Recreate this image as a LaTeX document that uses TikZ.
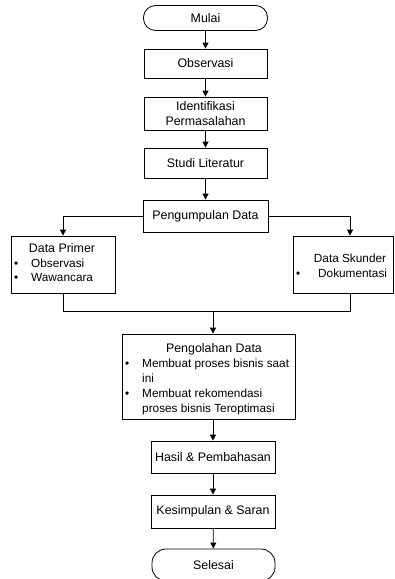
\documentclass[tikz,border=0pt]{standalone}
\usepackage{fontspec}
\setmainfont{Liberation Sans}
\usepackage{tikz}
\usetikzlibrary{arrows.meta}

% bullet in front of a list line
\newcommand{\butir}{\makebox[17pt][l]{\textbullet}}

\begin{document}
\begin{tikzpicture}[x=1pt,y=-1pt,
    font=\fontsize{12.4}{14.8}\selectfont,
    kotak/.style={draw,line width=0.8pt,inner sep=3pt,align=center},
    ujung/.style={draw,line width=0.8pt,rounded corners=12pt,minimum width=124pt,minimum height=25pt},
    teks/.style={anchor=base west,inner sep=0pt,font=\fontsize{11.8}{14.8}\selectfont},
    judul/.style={anchor=base,inner sep=0pt},
    panah/.style={line width=0.8pt,-{Triangle[width=6pt,length=6pt]}}]
    % Fix the page size
    \useasboundingbox (0,0) rectangle (395,579);

    % Main column, top part
    \node[ujung] (mulai) at (205.5,18) {Mulai};
    \node[kotak,minimum width=123pt,minimum height=29pt] (obs) at (205.5,63.5) {Observasi};
    \node[kotak,minimum width=123pt,minimum height=33pt] (idf) at (205.5,113.5) {Identifikasi\\Permasalahan};
    \node[kotak,minimum width=123pt,minimum height=30pt] (studi) at (205.5,163) {Studi Literatur};
    \node[kotak,minimum width=125pt,minimum height=32pt] (kumpul) at (205.5,216) {Pengumpulan Data};

    % The two data sources
    \node[kotak,minimum width=104pt,minimum height=57pt] (primer) at (63,264.5) {};
    \node[judul] (primer0) at (62,252.5) {Data Primer};
    \node[teks] (primer1) at (14,267) {\butir Observasi};
    \node[teks] (primer2) at (14,281.5) {\butir Wawancara};
    \node[kotak,minimum width=100pt,minimum height=57pt] (skunder) at (343,264.5) {};
    \node[judul,font=\fontsize{11.8}{14.8}\selectfont] (skunder0) at (350,262.5) {Data Skunder};
    \node[teks] (skunder1) at (296,277.5) {\makebox[22pt][l]{\textbullet}Dokumentasi};

    % Main column, bottom part
    \node[kotak,minimum width=173pt,minimum height=85pt] (olah) at (208.5,376.5) {};
    \node[judul] (olah0) at (214,352) {Pengolahan Data};
    \node[teks] (olah1) at (125,367) {\butir Membuat proses bisnis saat};
    \node[teks] (olah2) at (142,382) {ini};
    \node[teks] (olah3) at (125,397) {\butir Membuat rekomendasi};
    \node[teks] (olah4) at (142,412) {proses bisnis Teroptimasi};
    \node[kotak,minimum width=124pt,minimum height=32pt] (hasil) at (213,457) {Hasil \& Pembahasan};
    \node[kotak,minimum width=124pt,minimum height=33pt] (simpul) at (213,511.5) {Kesimpulan \& Saran};
    \node[ujung,rounded corners=14pt,minimum width=123pt,minimum height=32pt] (selesai) at (213.5,565) {Selesai};

    % Connectors
    \draw[panah] (mulai) -- (obs);
    \draw[panah] (obs) -- (idf);
    \draw[panah] (idf) -- (studi);
    \draw[panah] (studi) -- (kumpul);
    \draw[panah] (kumpul.west) -| (primer.north);
    \draw[panah] (kumpul.east) -| ([xshift=7pt]skunder.north);

    % Join the two sources again
    \coordinate (gabung) at (213,311);
    \draw[line width=0.8pt] (primer.south) |- (gabung);
    \draw[line width=0.8pt] ([xshift=7pt]skunder.south) |- (gabung);
    \draw[panah] (gabung) -- (gabung |- olah.north);
    \draw[panah] (hasil.north |- olah.south) -- (hasil.north);
    \draw[panah] (hasil) -- (simpul);
    \draw[panah] (simpul) -- (selesai);
\end{tikzpicture}
\end{document}
